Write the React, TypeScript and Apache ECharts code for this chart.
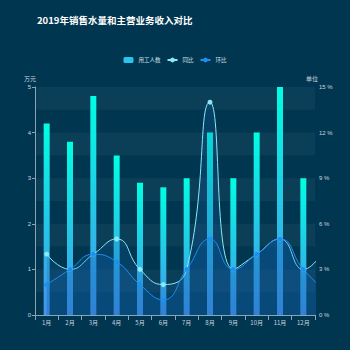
import React, { useEffect, useRef } from "react";
import * as echarts from "echarts";

const months = ["1月", "2月", "3月", "4月", "5月", "6月", "7月", "8月", "9月", "10月", "11月", "12月"];
const workers = [4.2, 3.8, 4.8, 3.5, 2.9, 2.8, 3.0, 4.0, 3.0, 4.0, 5.0, 3.0];
const yoy = [4, 3, 4, 5, 3, 2, 3, 14, 3, 4, 5, 3, 4.6];
const mom = [2, 3, 4, 3.5, 2, 1, 3, 5, 3, 4, 5, 3, 1.5];
const leftTicks = [0, 1, 2, 3, 4, 5];
const rightTicks = [0, 3, 6, 9, 12, 15];

export default function App() {
  const ref = useRef<HTMLDivElement>(null);
  useEffect(() => {
    const chart = echarts.init(ref.current!, null, { renderer: "svg" });
    const axisTextColor = "#c8d6e0";
    chart.setOption({
      animation: false,
      backgroundColor: "#013650",
      title: {
        text: "2019年销售水量和主营业务收入对比",
        left: 32,
        top: 10,
        textStyle: { color: "#ffffff", fontSize: 9.5, fontWeight: "bold", fontFamily: "Noto Sans CJK SC" },
      },
      legend: {
        top: 52,
        left: "center",
        itemWidth: 10,
        itemHeight: 6,
        itemGap: 6,
        textStyle: { color: "#d0e0ea", fontSize: 5.5, fontFamily: "Noto Sans CJK SC" },
        data: [
          { name: "用工人数", icon: "roundRect", itemStyle: { color: "#29c5ec" } },
          { name: "同比" },
          { name: "环比" },
        ],
      },
      grid: { left: 35, right: 35, top: 87, bottom: 35 },
      xAxis: {
        type: "category",
        data: months,
        boundaryGap: true,
        axisLine: { lineStyle: { color: "#8aa3b5" } },
        axisTick: { show: true, lineStyle: { color: "#8aa3b5" } },
        axisLabel: { color: axisTextColor, fontSize: 6, margin: 4, fontFamily: "Noto Sans CJK SC" },
      },
      yAxis: [
        {
          type: "value",
          name: "万元",
          min: leftTicks[0],
          max: leftTicks[leftTicks.length - 1],
          interval: 1,
          nameGap: 6,
          nameTextStyle: { color: axisTextColor, fontSize: 6, fontFamily: "Noto Sans CJK SC", padding: [0, 0, 0, -10] },
          axisLine: { show: true, lineStyle: { color: "#8aa3b5" } },
          axisTick: { show: true, length: 3, lineStyle: { color: "#8aa3b5" } },
          axisLabel: { color: axisTextColor, fontSize: 6, margin: 4 },
          splitLine: { show: false },
          splitArea: { show: false },
        },
        {
          type: "value",
          name: "单位",
          min: rightTicks[0],
          max: rightTicks[rightTicks.length - 1],
          interval: 3,
          nameGap: 6,
          nameTextStyle: { color: axisTextColor, fontSize: 6, fontFamily: "Noto Sans CJK SC", padding: [0, 0, 0, -6] },
          axisLine: { show: false },
          axisTick: { show: false },
          axisLabel: { color: axisTextColor, fontSize: 6, margin: 4, formatter: "{value} %" },
          splitLine: { show: false },
          splitArea: { show: false },
        },
        {
          type: "value",
          min: 0,
          max: 5,
          interval: 0.5,
          show: true,
          axisLine: { show: false },
          axisTick: { show: false },
          axisLabel: { show: false },
          splitLine: { show: false },
          splitArea: {
            show: true,
            areaStyle: { color: ["rgba(255,255,255,0)", "rgba(255,255,255,0.045)"] },
          },
        },
      ],
      series: [
        {
          name: "用工人数",
          type: "bar",
          yAxisIndex: 0,
          barWidth: 6,
          data: workers,
          itemStyle: {
            color: new echarts.graphic.LinearGradient(0, 0, 0, 1, [
              { offset: 0, color: "#00ffe3" },
              { offset: 1, color: "#4693ec" },
            ]),
          },
          z: 2,
        },
        {
          name: "同比",
          type: "line",
          yAxisIndex: 1,
          smooth: true,
          symbol: "circle",
          symbolSize: 5,
          data: yoy,
          itemStyle: { color: "#8be9f5" },
          lineStyle: { color: "#8be9f5", width: 1 },
          areaStyle: { color: "rgba(20,100,170,0.35)" },
          z: 3,
        },
        {
          name: "环比",
          type: "line",
          yAxisIndex: 1,
          smooth: true,
          symbol: "circle",
          symbolSize: 5,
          data: mom,
          itemStyle: { color: "#1e8fee" },
          lineStyle: { color: "#1e8fee", width: 1 },
          areaStyle: { color: "rgba(20,110,200,0.3)" },
          z: 4,
        },
      ],
    });
    return () => chart.dispose();
  }, []);
  return <div ref={ref} style={{ width: 350, height: 350, position: "fixed", left: 0, top: 0 }} />;
}
